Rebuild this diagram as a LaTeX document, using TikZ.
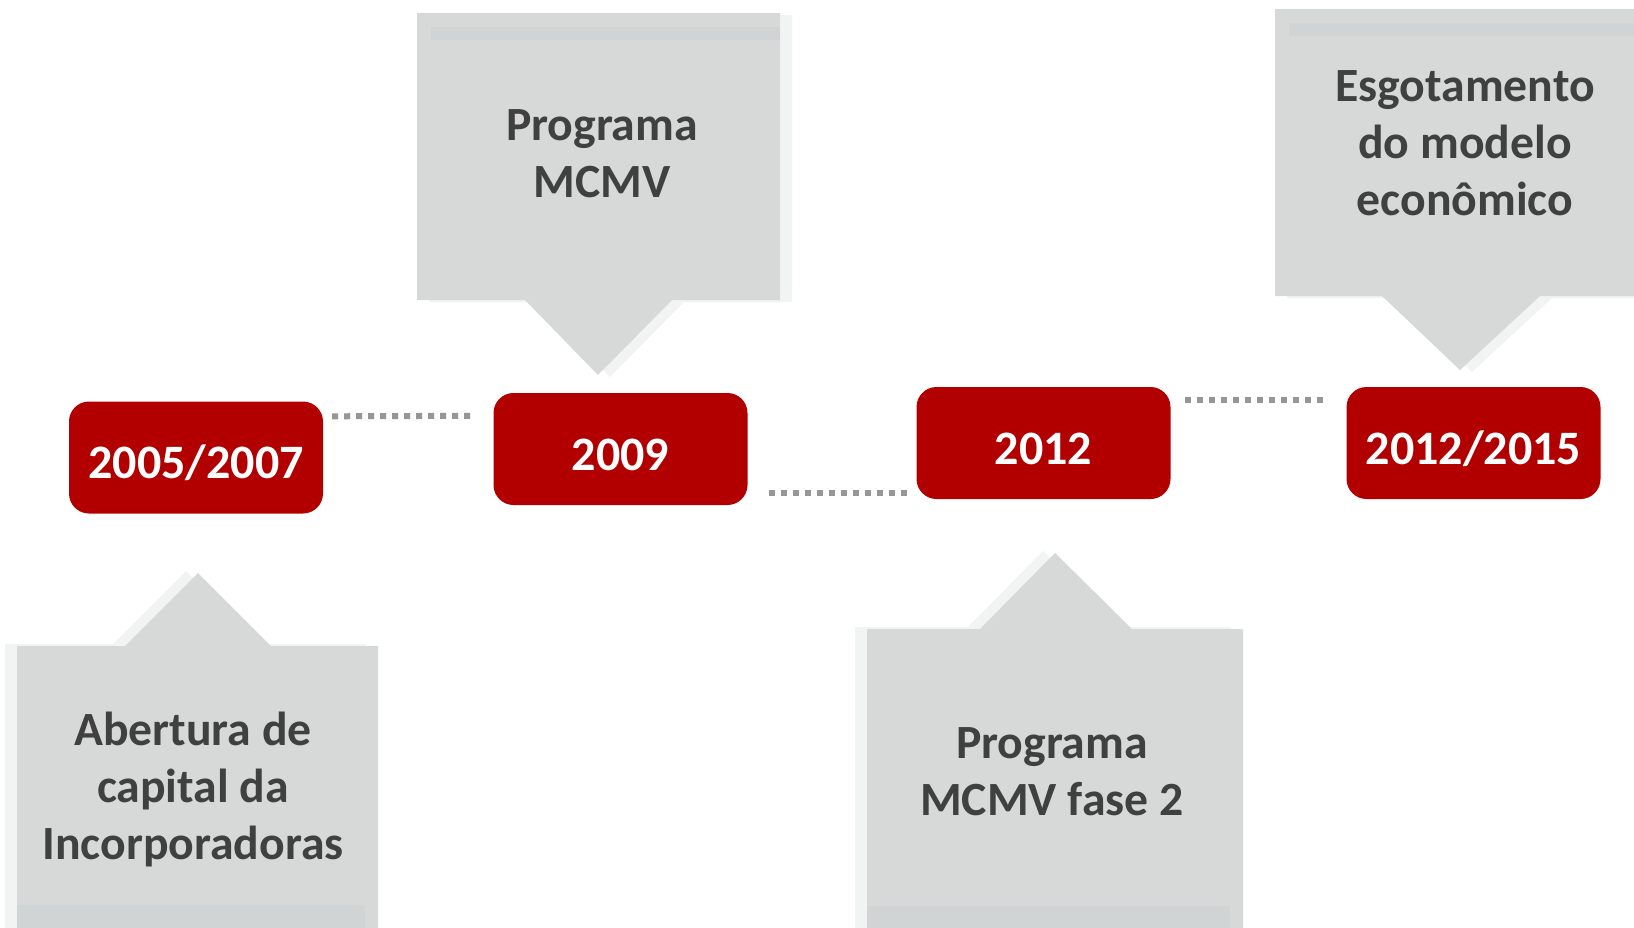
\documentclass[tikz,border=0pt]{standalone}
\usepackage{fontspec}
\setmainfont{Carlito}
\usetikzlibrary{calc}
\definecolor{boxred}{RGB}{178,0,0}
\definecolor{callgray}{RGB}{215,217,217}
\definecolor{callband}{RGB}{209,212,212}
\definecolor{callshadow}{RGB}{242,243,243}
\definecolor{dotgray}{RGB}{150,150,150}
\definecolor{txtgray}{RGB}{64,64,64}
\tikzset{
  yearbox/.style={fill=boxred, rounded corners=20pt, minimum width=254pt, minimum height=112pt,
    text=white, font=\bfseries\fontsize{48}{58}\selectfont, text height=42pt, text depth=0pt, inner sep=0pt},
  calltext/.style={text=txtgray, font=\bfseries\fontsize{47.7}{57}\selectfont, align=center, inner sep=0pt},
  dots/.style={draw=dotgray, line width=6pt, dash pattern=on 6pt off 6pt},
  callfill/.style={fill=callgray},
  callshade/.style={fill=callshadow},
  callband/.style={fill=callband},
}
\begin{document}
\begin{tikzpicture}[x=1pt,y=-1pt]
\useasboundingbox (0,0) rectangle (1634,927);
\clip (0,0) rectangle (1634,927);
\fill[white] (0,0) rectangle (1634,927);

% top callout: Programa MCMV
\fill[callshade] (429,15) -- (792,15) -- (792,302) -- (684,302) -- (610,377) -- (537,302) -- (429,302) -- cycle;
\fill[callfill] (417,13) -- (780,13) -- (780,300) -- (672,300) -- (598,375) -- (525,300) -- (417,300) -- cycle;
\fill[callband] (431,27) rectangle (780,40);

% top callout: Esgotamento
\fill[callshade] (1287,11) -- (1660,11) -- (1660,298) -- (1552,298) -- (1472,372) -- (1394,298) -- (1287,298) -- cycle;
\fill[callfill] (1275,9) -- (1660,9) -- (1660,296) -- (1540,296) -- (1460,370) -- (1382,296) -- (1275,296) -- cycle;
\fill[callband] (1289,23) rectangle (1660,36);

% bottom callout: Abertura
\fill[callshade] (5,644) -- (113,644) -- (186,571) -- (259,644) -- (366,644) -- (366,940) -- (5,940) -- cycle;
\fill[callfill] (17,646) -- (125,646) -- (198,573) -- (271,646) -- (378,646) -- (378,940) -- (17,940) -- cycle;
\fill[callband] (17,905) rectangle (365,940);

% bottom callout: Programa MCMV fase 2
\fill[callshade] (855,627) -- (968,627) -- (1043,551) -- (1120,627) -- (1231,627) -- (1231,940) -- (855,940) -- cycle;
\fill[callfill] (867,629) -- (980,629) -- (1055,553) -- (1132,629) -- (1243,629) -- (1243,940) -- (867,940) -- cycle;
\fill[callband] (867,906) rectangle (1230,940);

% callout texts
\node[calltext] (t1) at (602,154) {Programa\\MCMV};
\node[calltext] (t2) at (193,790) {Abertura de\\capital da\\Incorporadoras};
\node[calltext] (t3) at (1052,772) {Programa\\MCMV fase 2};
\node[calltext] (t4) at (1465,143) {Esgotamento\\do modelo\\econômico};

% year boxes
\node[yearbox] (b1) at (196,457.5) {2005/2007};
\node[yearbox] (b2) at (620.5,449) {2009};
\node[yearbox] (b3) at (1043.5,443) {2012};
\node[yearbox] (b4) at (1473.5,443) {2012/2015};

% dotted connectors
\draw[dots] ([xshift=9pt,yshift=-15pt]b1.north east) -- ([xshift=-21pt,yshift=-23pt]b2.north west);
\draw[dots] ([xshift=21pt,yshift=12pt]b2.south east) -- ([xshift=-8pt,yshift=6pt]b3.south west);
\draw[dots] ([xshift=14pt,yshift=-13pt]b3.north east) -- ([xshift=-23pt,yshift=-13pt]b4.north west);
\end{tikzpicture}
\end{document}
